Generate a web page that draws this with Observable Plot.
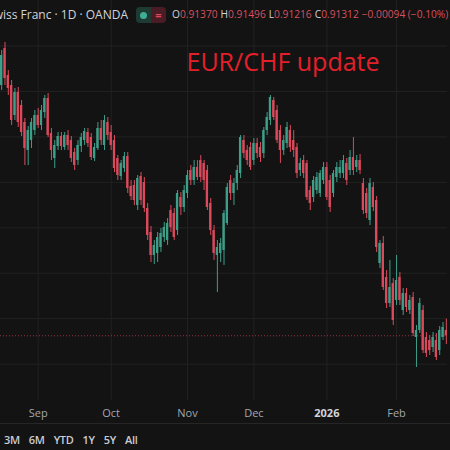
<!DOCTYPE html>
<html>
<head>
<meta charset="utf-8">
<script src="https://cdn.jsdelivr.net/npm/d3@7"></script>
<script src="https://cdn.jsdelivr.net/npm/@observablehq/plot@0.6"></script>
<style>
  html, body { margin: 0; padding: 0; background: #131313; }
  #wrap { position: relative; width: 450px; height: 450px; overflow: hidden; background: #131313; font-family: "Open Sans", sans-serif; }
  #chart { position: absolute; left: 0; top: 0; }
  #title { position: absolute; right: 322px; top: 6px; font-size: 12px; color: #d1d4dc; white-space: nowrap; }
  #pill { position: absolute; left: 136px; top: 7px; height: 16px; width: 30px; display: flex; border-radius: 4px; overflow: hidden; }
  #pill .g { width: 15px; background: #1d3a33; display: flex; align-items: center; justify-content: center; }
  #pill .g i { width: 7px; height: 7px; border-radius: 50%; background: #3fae93; display: block; }
  #pill .r { width: 15px; background: #4a1d26; display: flex; align-items: center; justify-content: center; color: #e0475b; font-size: 11px; font-weight: bold; line-height: 16px; }
  #ohlc { position: absolute; left: 172px; top: 7px; font-size: 10.2px; white-space: nowrap; color: #d1d4dc; }
  #ohlc b { font-weight: normal; color: #d9505f; margin-right: 3px; }
  #sep { position: absolute; left: 0; top: 423px; width: 450px; height: 1px; background: #262626; }
  #tools { position: absolute; left: 4px; top: 432px; display: flex; gap: 9px; font-size: 11px; font-weight: 600; letter-spacing: -0.3px; color: #c9ccd4; }
</style>
</head>
<body>
<div id="wrap">
  <div id="chart"></div>
  <div id="title"></div>
  <div id="pill"><span class="g"><i></i></span><span class="r">=</span></div>
  <div id="ohlc"></div>
  <div id="sep"></div>
  <div id="tools"></div>
</div>
<script>
// ---- Data (EUR/CHF daily, OANDA) ----
const holidays = ["2025-12-25", "2026-01-01"];
const startDate = "2025-08-15";
const endDate = "2026-02-24"; // exclusive

const open = [0.94065,0.94472,0.94175,0.94065,0.93735,0.93988,0.93845,0.93658,0.93350,0.93460,
0.93570,0.93735,0.93625,0.93768,0.93922,0.93537,0.93262,0.93394,0.93504,0.93383,
0.93515,0.93460,0.93328,0.93240,0.93394,0.93460,0.93548,0.93493,0.93262,0.93372,
0.93592,0.93405,0.93658,0.93548,0.93460,0.93262,0.93064,0.93152,0.93284,0.92954,
0.92965,0.92745,0.93064,0.92998,0.92712,0.92448,0.92195,0.92217,0.92283,0.92393,
0.92360,0.92690,0.92657,0.92470,0.92833,0.92723,0.92877,0.93130,0.93020,0.93163,
0.93240,0.93207,0.93130,0.92767,0.92470,0.92195,0.92217,0.92250,0.92547,0.93020,
0.92877,0.92987,0.93097,0.93460,0.93350,0.93383,0.93240,0.93427,0.93383,0.93317,
0.93570,0.93680,0.93900,0.93790,0.93570,0.93350,0.93427,0.93570,0.93460,0.93383,
0.93130,0.93240,0.93207,0.92910,0.92833,0.92910,0.92877,0.93020,0.93163,0.93020,
0.92877,0.93053,0.93097,0.93097,0.93207,0.93130,0.93273,0.93163,0.93240,0.92987,
0.92877,0.92580,0.92943,0.92800,0.92107,0.92327,0.91953,0.91667,0.91887,0.91700,
0.91953,0.91590,0.91777,0.91590,0.91733,0.91293,0.91370,0.91590,0.91293,0.91260,
0.91183,0.91260,0.91150,0.91293,0.91370];
const high = [0.94450,0.94538,0.94230,0.94120,0.94032,0.94043,0.93900,0.93702,0.93614,0.93702,
0.93790,0.93812,0.93845,0.93955,0.93977,0.93592,0.93460,0.93548,0.93548,0.93548,
0.93570,0.93504,0.93372,0.93460,0.93537,0.93592,0.93592,0.93537,0.93427,0.93658,
0.93680,0.93735,0.93713,0.93625,0.93515,0.93295,0.93240,0.93328,0.93328,0.93020,
0.93020,0.93075,0.93108,0.93053,0.92767,0.92514,0.92360,0.92448,0.92492,0.92558,
0.92602,0.92745,0.92712,0.92910,0.92888,0.92965,0.93130,0.93185,0.93240,0.93240,
0.93295,0.93240,0.93185,0.92822,0.92525,0.92360,0.92382,0.92690,0.92987,0.93075,
0.93042,0.93185,0.93515,0.93515,0.93405,0.93438,0.93482,0.93482,0.93438,0.93603,
0.93768,0.93955,0.93933,0.93845,0.93625,0.93515,0.93658,0.93625,0.93570,0.93427,
0.93262,0.93295,0.93240,0.92954,0.93064,0.93108,0.93130,0.93218,0.93218,0.93075,
0.93130,0.93218,0.93240,0.93295,0.93262,0.93350,0.93493,0.93295,0.93306,0.93042,
0.92932,0.93042,0.92998,0.92844,0.92360,0.92404,0.92030,0.92140,0.91942,0.92195,
0.92008,0.91832,0.91832,0.91755,0.91788,0.91425,0.91722,0.91645,0.91348,0.91315,
0.91348,0.91337,0.91414,0.91458,0.91496];
const low = [0.94010,0.94065,0.93955,0.93625,0.93680,0.93603,0.93504,0.93185,0.93185,0.93372,
0.93515,0.93592,0.93570,0.93702,0.93493,0.93240,0.93152,0.93350,0.93350,0.93350,
0.93350,0.93218,0.93130,0.93185,0.93328,0.93405,0.93383,0.93240,0.93229,0.93350,
0.93405,0.93350,0.93460,0.93350,0.93108,0.93020,0.93020,0.93108,0.92877,0.92800,
0.92745,0.92690,0.92745,0.92668,0.92360,0.92118,0.92096,0.92118,0.92228,0.92338,
0.92305,0.92448,0.92360,0.92415,0.92635,0.92668,0.92822,0.92965,0.92965,0.93020,
0.92998,0.92910,0.92690,0.92415,0.92140,0.91788,0.92118,0.92085,0.92525,0.92800,
0.92745,0.92910,0.93042,0.93262,0.93185,0.93130,0.93185,0.93262,0.93218,0.93262,
0.93515,0.93625,0.93680,0.93427,0.93207,0.93295,0.93372,0.93328,0.93273,0.93042,
0.93064,0.93042,0.92800,0.92690,0.92778,0.92866,0.92833,0.92976,0.92800,0.92668,
0.92833,0.92998,0.93042,0.93042,0.92965,0.93075,0.93075,0.93108,0.93086,0.92646,
0.92602,0.92525,0.92679,0.92228,0.92052,0.91810,0.91612,0.91623,0.91425,0.91645,
0.91645,0.91535,0.91568,0.91546,0.91304,0.90963,0.91337,0.91117,0.91073,0.91095,
0.91128,0.91040,0.91095,0.91260,0.91216];
const close = [0.94395,0.94142,0.94032,0.93680,0.93988,0.93658,0.93548,0.93372,0.93570,0.93658,
0.93735,0.93625,0.93790,0.93922,0.93515,0.93350,0.93405,0.93504,0.93394,0.93515,
0.93405,0.93262,0.93185,0.93405,0.93493,0.93559,0.93427,0.93273,0.93383,0.93592,
0.93460,0.93680,0.93515,0.93405,0.93152,0.93075,0.93207,0.93284,0.92932,0.92844,
0.92800,0.93042,0.92800,0.92712,0.92415,0.92195,0.92305,0.92393,0.92437,0.92503,
0.92547,0.92503,0.92393,0.92877,0.92723,0.92910,0.93075,0.93020,0.93163,0.93053,
0.93053,0.93020,0.92723,0.92470,0.92217,0.92283,0.92327,0.92657,0.92943,0.92877,
0.92987,0.93130,0.93493,0.93317,0.93240,0.93163,0.93427,0.93317,0.93273,0.93570,
0.93713,0.93933,0.93713,0.93460,0.93350,0.93460,0.93603,0.93383,0.93350,0.93097,
0.93207,0.93097,0.92833,0.92767,0.93020,0.93053,0.93097,0.93163,0.92833,0.92723,
0.93097,0.93163,0.93163,0.93240,0.93020,0.93273,0.93130,0.93240,0.93130,0.92690,
0.92657,0.92987,0.92723,0.92283,0.92327,0.91843,0.91667,0.91843,0.91480,0.91920,
0.91700,0.91777,0.91623,0.91700,0.91337,0.91370,0.91667,0.91150,0.91117,0.91150,
0.91293,0.91073,0.91370,0.91403,0.91312];

const tickDates = ["2025-09-01", "2025-10-01", "2025-11-03", "2025-12-01", "2026-01-02", "2026-02-02"];
const tickLabels = ["Sep", "Oct", "Nov", "Dec", "2026", "Feb"];
const gridPrices = [0.910, 0.915, 0.920, 0.925, 0.930, 0.935, 0.940, 0.945];
const lastQuote = {open: 0.91370, high: 0.91496, low: 0.91216, close: 0.91312, change: -0.00094, pct: -0.10};
const symbolTitle = "Euro / Swiss Franc · 1D · OANDA";
const annotation = "EUR/CHF update";
const rangeButtons = ["3M", "6M", "YTD", "1Y", "5Y", "All"];

// ---- Build ----
const dates = d3.utcDay.range(new Date(startDate), new Date(endDate))
  .filter(d => d.getUTCDay() % 6 !== 0 && !holidays.includes(d.toISOString().slice(0, 10)));
const candles = dates.map((date, i) => ({date, open: open[i], high: high[i], low: low[i], close: close[i],
  dir: close[i] >= open[i] ? "up" : "down"}));
const ticks = tickDates.map((t, i) => ({date: new Date(t), label: tickLabels[i]}));

const GREEN = "#3e9f89", RED = "#db4a5c";

const chart = Plot.plot({
  width: 450,
  height: 423,
  marginTop: 0, marginRight: 3, marginBottom: 23, marginLeft: 0,
  style: {background: "transparent", fontFamily: "Open Sans, sans-serif"},
  x: {type: "band", domain: dates, paddingInner: 0.3, paddingOuter: 0, axis: null},
  y: {domain: [0.906, 0.95], axis: null},
  color: {domain: ["up", "down"], range: [GREEN, RED]},
  marks: [
    Plot.ruleY(gridPrices, {stroke: "#222222"}),
    Plot.ruleX(ticks, {x: "date", stroke: "#222222"}),
    Plot.ruleY([lastQuote.close], {stroke: "#b8404e", strokeDasharray: "1,2", strokeOpacity: 0.8}),
    Plot.ruleX(candles, {x: "date", y1: "low", y2: "high", stroke: "dir", strokeWidth: 1}),
    Plot.barY(candles, {x: "date", y1: "open", y2: "close", fill: "dir"}),
    Plot.text(ticks, {x: "date", text: "label", frameAnchor: "bottom", dy: 16, fontSize: 11, fill: "#a3a6af"}),
    Plot.text([annotation], {frameAnchor: "top-left", dx: 186, dy: 53, fontSize: 25, fill: "#e3202a"})
  ]
});
document.getElementById("chart").appendChild(chart);
d3.select(chart).selectAll("text").filter(function() { return this.textContent === "2026"; })
  .attr("font-weight", "bold").attr("fill", "#d1d4dc");

document.getElementById("title").textContent = symbolTitle;
const fmt = v => v.toFixed(5);
document.getElementById("ohlc").innerHTML =
  `O<b>${fmt(lastQuote.open)}</b>H<b>${fmt(lastQuote.high)}</b>L<b>${fmt(lastQuote.low)}</b>C<b>${fmt(lastQuote.close)}</b><b>\u2212${Math.abs(lastQuote.change).toFixed(5)} (\u2212${Math.abs(lastQuote.pct).toFixed(2)}%)</b>`;
document.getElementById("tools").innerHTML = rangeButtons.map(b => `<span>${b}</span>`).join("");
</script>
</body>
</html>
